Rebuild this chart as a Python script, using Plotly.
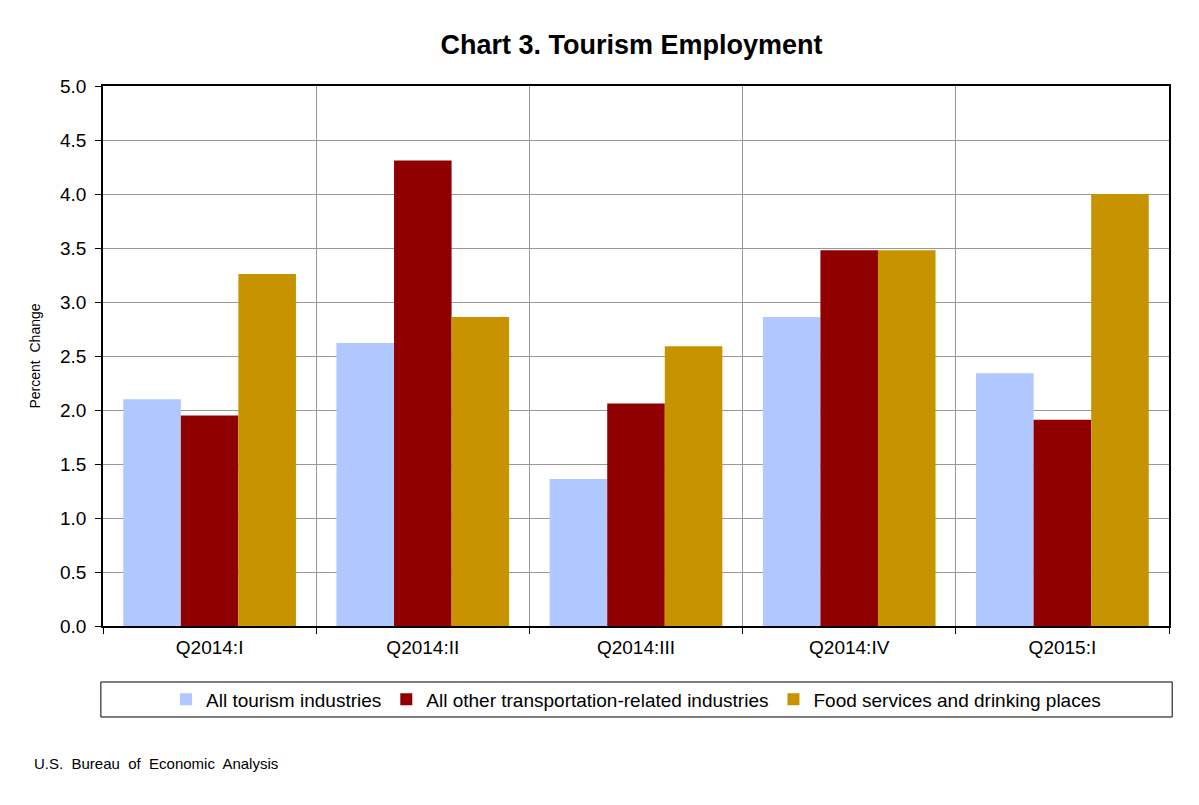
import plotly.graph_objects as go

quarters = ["Q2014:I", "Q2014:II", "Q2014:III", "Q2014:IV", "Q2015:I"]
all_tourism = [2.10, 2.62, 1.36, 2.86, 2.34]
other_transport = [1.95, 4.31, 2.06, 3.48, 1.91]
food_services = [3.26, 2.86, 2.59, 3.48, 4.00]

series_names = ["All tourism industries", "All other transportation-related industries",
                "Food services and drinking places"]
colors = ["#b0c8ff", "#900000", "#c89300"]

fig = go.Figure()
for name, vals, col in zip(series_names, [all_tourism, other_transport, food_services], colors):
    fig.add_trace(go.Bar(x=quarters, y=vals, name=name, marker_color=col, marker_line_width=0))

# the page has an 8px body margin, so the margins are shifted to match
fig.update_layout(
    width=1199, height=805,
    margin=dict(l=95, r=38, t=78, b=187),
    paper_bgcolor="white", plot_bgcolor="white",
    font=dict(family="Liberation Sans, Arial, sans-serif", color="black"),
    title=dict(text="<b>Chart 3. Tourism Employment</b>", x=0.52, xanchor="center",
               y=0.955, yanchor="middle", font=dict(size=27)),
    barmode="group", bargap=0.19, bargroupgap=0,
    showlegend=True,
    legend=dict(orientation="h", x=0.5, xanchor="center", y=-0.136, yanchor="middle",
                font=dict(size=19), bgcolor="rgba(0,0,0,0)", traceorder="normal",
                itemwidth=30),
)

fig.update_xaxes(
    tickson="boundaries", showgrid=True, gridcolor="#999999", gridwidth=1,
    showline=True, linecolor="black", linewidth=1.5, mirror=True,
    ticks="outside", ticklen=6, tickcolor="black",
    tickfont=dict(size=19), ticklabelstandoff=3,
)
fig.update_yaxes(
    range=[0, 5], dtick=0.5, tickformat=".1f",
    showgrid=True, gridcolor="#999999", gridwidth=1,
    showline=True, linecolor="black", linewidth=1.5, mirror=True,
    ticks="outside", ticklen=6, tickcolor="black",
    tickfont=dict(size=19), zeroline=False, ticklabelstandoff=5,
    title=dict(text="Percent  Change", font=dict(size=14), standoff=16),
)

# border round the legend
fig.add_shape(type="rect", xref="paper", yref="paper",
              x0=-0.002, x1=1.003, y0=-0.1685, y1=-0.1037,
              line=dict(color="black", width=1), fillcolor="rgba(0,0,0,0)")

fig.add_annotation(text="U.S.  Bureau  of  Economic  Analysis", xref="paper", yref="paper",
                   x=-0.067, y=-0.254, xanchor="left", yanchor="middle",
                   showarrow=False, font=dict(size=15))

fig.write_html("out.html")
